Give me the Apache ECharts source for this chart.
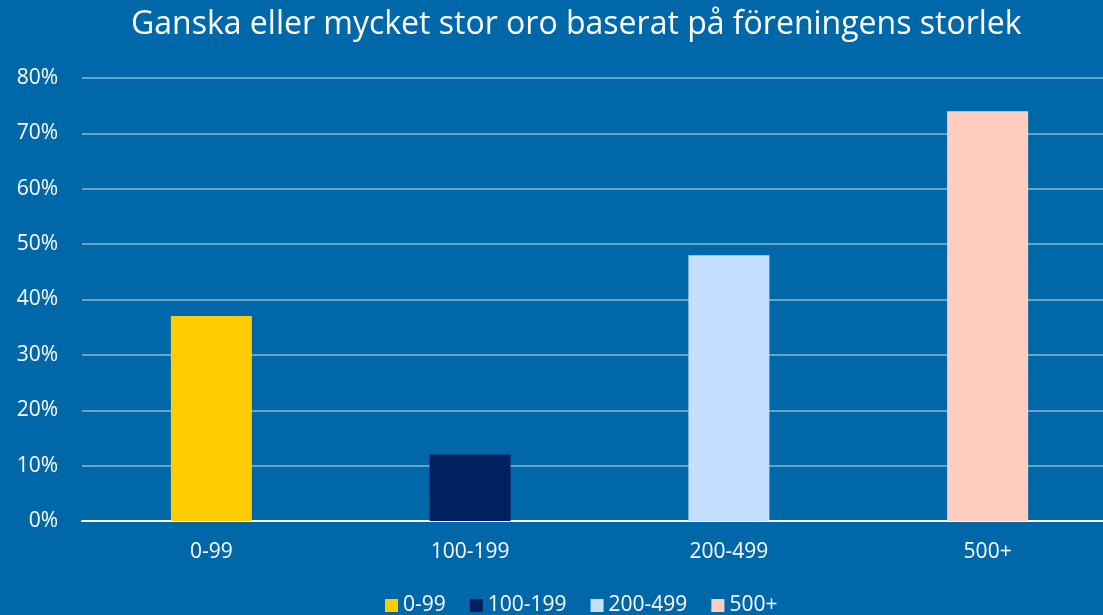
<!DOCTYPE html>
<html>
<head>
<meta charset="utf-8">
<script src="https://cdn.jsdelivr.net/npm/echarts@6/dist/echarts.min.js"></script>
<style>
  html, body { margin: 0; padding: 0; background: #0068A8; overflow: hidden; }
  /* plot area runs a little past the right edge, as in the original */
  #chart { width: 1117px; height: 615px; }
</style>
</head>
<body>
<div id="chart"></div>
<script>
// data
const categories = ['0-99', '100-199', '200-499', '500+'];
const values = [37, 12, 48, 74];
const colors = ['#FFCC00', '#002060', '#C5E0FF', '#FFCEC0'];
const yTicks = [0, 10, 20, 30, 40, 50, 60, 70, 80];

const chart = echarts.init(document.getElementById('chart'));

// one series per category so the legend lists them; stacked keeps bars centered
const series = categories.map((name, i) => ({
  name: name,
  type: 'bar',
  stack: 'all',
  barWidth: 81,
  itemStyle: { color: colors[i] },
  data: categories.map((c, j) => (j === i ? values[i] : '-'))
}));

chart.setOption({
  backgroundColor: '#0068A8',
  textStyle: { fontFamily: 'Open Sans, Noto Sans, sans-serif' },
  title: {
    text: 'Ganska eller mycket stor oro baserat på föreningens storlek',
    left: 126,
    top: 4,
    textStyle: { color: '#fff', fontSize: 32, fontWeight: 'normal' }
  },
  legend: {
    bottom: -6,
    left: 380,
    icon: 'rect',
    itemWidth: 13,
    itemHeight: 13,
    itemGap: 24,
    textStyle: { color: '#fff', fontSize: 21 },
    data: categories
  },
  grid: { left: 82, right: 0, top: 78, bottom: 94 },
  xAxis: {
    type: 'category',
    data: categories,
    axisTick: { show: false },
    axisLine: { lineStyle: { color: '#fff', width: 2 } },
    axisLabel: { color: '#fff', fontSize: 21, margin: 21 }
  },
  yAxis: {
    type: 'value',
    min: yTicks[0],
    max: yTicks[yTicks.length - 1],
    interval: 10,
    axisLine: { show: false },
    axisTick: { show: false },
    axisLabel: { color: '#fff', fontSize: 21, margin: 24, formatter: '{value}%' },
    splitLine: { lineStyle: { color: 'rgba(255,255,255,0.4)', width: 2 } }
  },
  series: series
});
</script>
</body>
</html>
